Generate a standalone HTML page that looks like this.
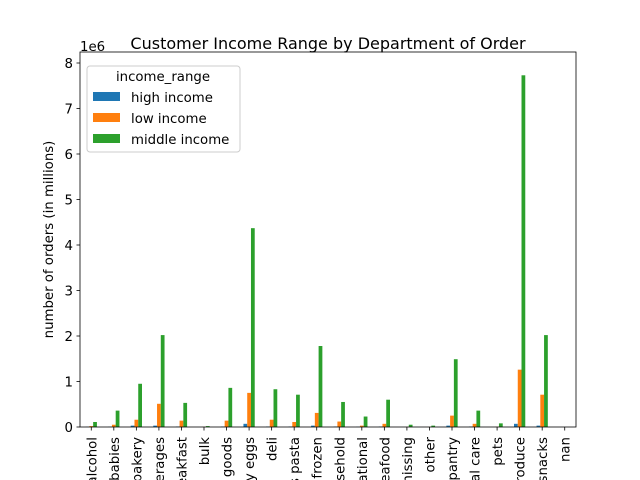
<!DOCTYPE html>
<html><head><meta charset="utf-8"><style>html,body{margin:0;background:#fff;width:640px;height:480px;overflow:hidden}svg{display:block;overflow:hidden;font-family:"DejaVu Sans","Liberation Sans",sans-serif}</style></head>
<body>
<svg id="c" width="640" height="480"></svg>
<script>
const categories=["alcohol","babies","bakery","beverages","breakfast","bulk","canned goods","dairy eggs","deli","dry goods pasta","frozen","household","international","meat seafood","missing","other","pantry","personal care","pets","produce","snacks","nan"];
const highIncome=[0.005,0.005,0.03,0.03,0.01,0,0.01,0.07,0.01,0.01,0.03,0.01,0.005,0.01,0,0,0.03,0.01,0,0.07,0.03,0];
const lowIncome=[0.02,0.05,0.16,0.51,0.14,0.003,0.14,0.75,0.16,0.11,0.31,0.12,0.03,0.07,0.002,0.002,0.25,0.07,0.005,1.26,0.71,0];
const middleIncome=[0.11,0.36,0.95,2.02,0.53,0.02,0.86,4.37,0.83,0.71,1.78,0.55,0.23,0.60,0.05,0.03,1.49,0.36,0.08,7.73,2.02,0];
const yTicks=[0,1,2,3,4,5,6,7,8];
const seriesNames=["high income","low income","middle income"];
const colors=["#1f77b4","#ff7f0e","#2ca02c"];
const svg=document.getElementById('c');const NS="http://www.w3.org/2000/svg";
function mk(t,a,p){const e=document.createElementNS(NS,t);for(const k in a)e.setAttribute(k,a[k]);(p||svg).appendChild(e);return e;}
const L=80,R=576,B=427,Tp=52;
const step=(R-L)/categories.length;
const x=i=>L+step*(i+0.5);
const y=v=>B-v*45.5;
const series=[highIncome,lowIncome,middleIncome];
const bw=step*0.5/3;
series.forEach((s,si)=>s.forEach((v,i)=>{
 const r=mk('rect',{x:x(i)-step*0.25+si*bw,y:y(v),width:bw,height:B-y(v),fill:colors[si]});
 
 
}));
const ax=mk('rect',{x:L,y:Tp,width:R-L,height:B-Tp,fill:'none',stroke:'#000','stroke-width':0.8});

yTicks.forEach(t=>{
 mk('line',{x1:L-3.5,x2:L,y1:y(t),y2:y(t),stroke:'#000','stroke-width':0.8});
 const tx=mk('text',{x:L-7,y:y(t)+5,'text-anchor':'end','font-size':13.3});tx.textContent=t;
 
});
categories.forEach((c,i)=>{
 mk('line',{x1:x(i),x2:x(i),y1:B,y2:B+3.5,stroke:'#000','stroke-width':0.8});
 const tx=mk('text',{x:0,y:0,'text-anchor':'end','font-size':13.3,transform:`translate(${x(i)+5},${B+10}) rotate(-90)`});tx.textContent=c;
 
});
let t=mk('text',{x:328,y:49,'text-anchor':'middle','font-size':16});t.textContent='Customer Income Range by Department of Order';

t=mk('text',{x:80,y:51,'font-size':13.3});t.textContent='1e6';

t=mk('text',{x:0,y:0,'text-anchor':'middle','font-size':13.3,transform:`translate(53,${(B+Tp)/2}) rotate(-90)`});t.textContent='number of orders (in millions)';

const lg=mk('g',{});
mk('rect',{x:87,y:66,width:153,height:86,rx:3,fill:'#fff','fill-opacity':0.8,stroke:'#ccc'},lg);
t=mk('text',{x:163,y:81,'text-anchor':'middle','font-size':13.3},lg);t.textContent='income_range';
seriesNames.forEach((n,i)=>{
 mk('rect',{x:93,y:92+i*21,width:27,height:9,fill:colors[i]},lg);
 const e=mk('text',{x:131,y:102+i*21,'font-size':13.3},lg);e.textContent=n;
 
});
</script>
</body></html>
